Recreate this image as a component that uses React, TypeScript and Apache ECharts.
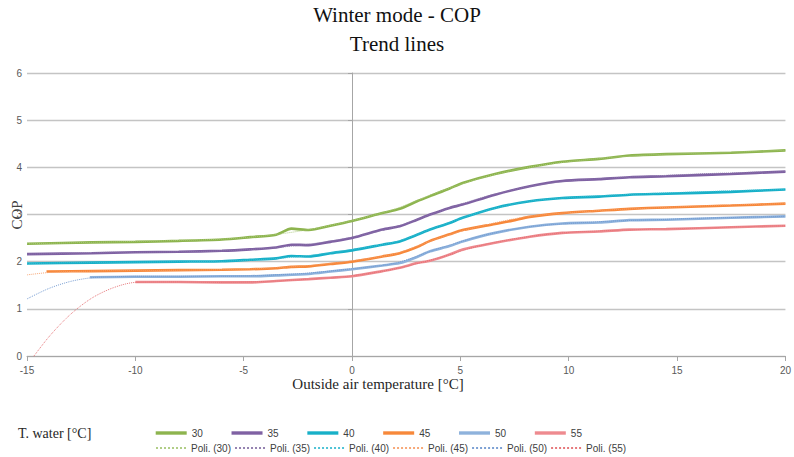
import React, { useEffect, useRef } from "react";
import * as echarts from "echarts";

// Measured series (outside air temperature [°C] -> COP)
const T_30 = [-15, -12, -10, -8, -6, -4.7, -3.5, -2.8, -2, -1, 0, 1.4, 2.2, 3, 3.6, 4.5, 5.1, 6.6, 8.2, 9.7, 11.4, 12.8, 14.5, 17.5, 20];
const COP_30 = [2.38, 2.41, 2.42, 2.44, 2.47, 2.52, 2.57, 2.7, 2.67, 2.76, 2.86, 3.03, 3.12, 3.28, 3.39, 3.55, 3.67, 3.86, 4.01, 4.12, 4.18, 4.25, 4.28, 4.31, 4.36];
const T_35 = T_30;
const COP_35 = [2.16, 2.18, 2.2, 2.21, 2.23, 2.26, 2.3, 2.36, 2.35, 2.42, 2.5, 2.68, 2.75, 2.89, 3.0, 3.14, 3.21, 3.42, 3.6, 3.71, 3.75, 3.79, 3.81, 3.86, 3.91];
const T_40 = T_30;
const COP_40 = [1.96, 1.98, 1.99, 2.0, 2.01, 2.04, 2.07, 2.12, 2.11, 2.18, 2.24, 2.36, 2.43, 2.57, 2.68, 2.82, 2.93, 3.14, 3.28, 3.35, 3.38, 3.42, 3.44, 3.48, 3.53];
const T_45 = [-14.1, -12, -10, -8, -6, -4.7, -3.5, -2.8, -2, -1, 0, 1.4, 2.2, 3, 3.6, 4.5, 5.1, 6.6, 7.4, 8.2, 9.7, 11.4, 12.8, 14.5, 17.5, 20];
const COP_45 = [1.79, 1.8, 1.81, 1.82, 1.83, 1.84, 1.86, 1.89, 1.9, 1.95, 2.0, 2.11, 2.18, 2.31, 2.44, 2.58, 2.67, 2.8, 2.87, 2.95, 3.03, 3.08, 3.12, 3.15, 3.19, 3.23];
const T_50 = [-12.1, -10, -8, -6, -4.7, -3.5, -2, -1, 0, 1.4, 2.2, 3, 3.6, 4.5, 5.1, 6.6, 8.2, 9.7, 11.4, 12.8, 14.5, 17.5, 20];
const COP_50 = [1.67, 1.68, 1.68, 1.69, 1.69, 1.71, 1.74, 1.79, 1.84, 1.92, 1.97, 2.1, 2.22, 2.33, 2.43, 2.61, 2.74, 2.81, 2.83, 2.88, 2.89, 2.93, 2.96];
const T_55 = [-10, -8, -6, -4.7, -3.5, -2, -1, 0, 1.4, 2.2, 3, 3.6, 4.5, 5.1, 6.6, 8.2, 9.7, 11.4, 12.8, 14.5, 17.5, 20];
const COP_55 = [1.57, 1.57, 1.56, 1.56, 1.59, 1.63, 1.66, 1.69, 1.8, 1.87, 1.97, 2.02, 2.15, 2.26, 2.4, 2.53, 2.61, 2.64, 2.68, 2.69, 2.73, 2.76];

// Polynomial trend lines
const POLY_TEMPS = [-15, -14, -13, -12, -11, -10, -8, -6, -4, -2, 0, 2, 4, 6, 8, 10, 12, 14, 16, 18, 20];
const POLY_30 = [2.38, 2.39, 2.4, 2.41, 2.42, 2.43, 2.45, 2.48, 2.55, 2.68, 2.87, 3.12, 3.48, 3.78, 3.99, 4.12, 4.21, 4.27, 4.3, 4.33, 4.36];
const POLY_35 = [2.16, 2.17, 2.18, 2.19, 2.2, 2.2, 2.21, 2.23, 2.28, 2.37, 2.52, 2.74, 3.06, 3.36, 3.58, 3.71, 3.78, 3.82, 3.86, 3.89, 3.91];
const POLY_40 = [1.96, 1.97, 1.98, 1.98, 1.99, 1.99, 2.0, 2.01, 2.05, 2.13, 2.26, 2.42, 2.75, 3.06, 3.27, 3.36, 3.41, 3.45, 3.48, 3.51, 3.53];
const POLY_45 = [1.72, 1.77, 1.79, 1.8, 1.81, 1.81, 1.82, 1.83, 1.86, 1.92, 2.02, 2.17, 2.5, 2.76, 2.95, 3.04, 3.1, 3.14, 3.18, 3.21, 3.23];
const POLY_50 = [1.21, 1.43, 1.58, 1.66, 1.68, 1.69, 1.69, 1.69, 1.71, 1.76, 1.85, 1.97, 2.28, 2.55, 2.73, 2.81, 2.86, 2.89, 2.92, 2.94, 2.96];
const POLY_55 = [-0.2, 0.4, 0.88, 1.23, 1.45, 1.56, 1.57, 1.56, 1.58, 1.63, 1.7, 1.85, 2.08, 2.35, 2.52, 2.62, 2.66, 2.69, 2.71, 2.74, 2.76];

const WATER_TEMPS = ["30", "35", "40", "45", "50", "55"];
const COLORS = ["#8db44e", "#7f61a3", "#17b0c8", "#f7883a", "#8eb2dc", "#ee8a8f"];
const POLY_COLORS = ["#a9c97a", "#8a76a8", "#3cbcd2", "#f6a06a", "#6f97cf", "#e36a6e"];
const MEASURED = [
  [T_30, COP_30],
  [T_35, COP_35],
  [T_40, COP_40],
  [T_45, COP_45],
  [T_50, COP_50],
  [T_55, COP_55],
];
const POLYS = [POLY_30, POLY_35, POLY_40, POLY_45, POLY_50, POLY_55];

const X_TICKS = { min: -15, max: 20, interval: 5 };
const Y_TICKS = { min: 0, max: 6, interval: 1 };

const SANS = "'Liberation Sans', Arial, sans-serif";
const SERIF = "'Liberation Serif', 'Times New Roman', serif";

export default function App() {
  const ref = useRef<HTMLDivElement>(null);
  useEffect(() => {
    if (!ref.current) return;
    const chart = echarts.init(ref.current, undefined, { renderer: "svg" });
    const zip = (xs: number[], ys: number[]) => xs.map((x, i) => [x, ys[i]]);
    const solid = WATER_TEMPS.map((name, i) => ({
      name,
      type: "line",
      data: zip(MEASURED[i][0] as number[], MEASURED[i][1] as number[]),
      symbol: "none",
      smooth: 0.25,
      lineStyle: { color: COLORS[i], width: 2.6 },
      itemStyle: { color: COLORS[i] },
      z: 3,
    }));
    const poly = WATER_TEMPS.map((t, i) => ({
      name: `Poli. (${t})`,
      type: "line",
      data: zip(POLY_TEMPS, POLYS[i]),
      symbol: "none",
      smooth: 0.3,
      lineStyle: { color: POLY_COLORS[i], width: 1, type: "dotted", opacity: 0.9 },
      itemStyle: { color: POLY_COLORS[i] },
      z: 4,
    }));
    chart.setOption({
      animation: false,
      title: {
        text: "Winter mode - COP\nTrend lines",
        left: "center",
        top: 0,
        padding: [0, 5],
        textStyle: { fontFamily: SERIF, fontSize: 21, fontWeight: "normal", color: "#111", lineHeight: 29 },
      },
      grid: { left: 27, right: 6, top: 73, bottom: 101, containLabel: false },
      xAxis: {
        type: "value",
        ...X_TICKS,
        axisLine: { show: true, lineStyle: { color: "#a6a6a6", width: 1 } },
        axisTick: { show: true, length: 5, lineStyle: { color: "#a6a6a6" } },
        axisLabel: { color: "#595959", fontFamily: SANS, fontSize: 10, margin: 9 },
        splitLine: { show: false },
      },
      yAxis: {
        type: "value",
        ...Y_TICKS,
        axisLine: { show: true, onZero: true, lineStyle: { color: "#a6a6a6", width: 1 } },
        axisTick: { show: true, length: 4, lineStyle: { color: "#a6a6a6" } },
        axisLabel: { color: "#595959", fontFamily: SANS, fontSize: 10, margin: 5 },
        splitLine: { show: true, lineStyle: { color: "#c4c4c4", width: 1.3 } },
      },
      legend: [
        {
          data: WATER_TEMPS,
          left: 154,
          top: 428,
          padding: 0,
          itemWidth: 31,
          itemHeight: 10,
          itemGap: 27,
          itemStyle: { opacity: 0, borderWidth: 0 },
          lineStyle: { width: 3.4 },
          textStyle: { fontFamily: SANS, fontSize: 10, color: "#404040", width: 20 },
        },
        {
          data: WATER_TEMPS.map((t) => `Poli. (${t})`),
          left: 155,
          top: 443,
          padding: 0,
          itemWidth: 30,
          itemHeight: 10,
          itemGap: 3,
          itemStyle: { opacity: 0, borderWidth: 0 },
          textStyle: { fontFamily: SANS, fontSize: 10, color: "#404040", width: 45 },
        },
      ],
      graphic: [
        {
          type: "text",
          x: 17,
          y: 215,
          rotation: Math.PI / 2,
          style: { text: "COP", font: `15px ${SERIF}`, fill: "#404040", textAlign: "center", textVerticalAlign: "middle" },
        },
        {
          type: "text",
          x: 378,
          y: 384,
          style: { text: "Outside air temperature [°C]", font: `15px ${SERIF}`, fill: "#262626", textAlign: "center", textVerticalAlign: "middle" },
        },
        {
          type: "text",
          x: 18,
          y: 433,
          style: { text: "T. water [°C]", font: `14px ${SERIF}`, fill: "#262626", textAlign: "left", textVerticalAlign: "middle" },
        },
      ],
      series: [...solid, ...poly],
    });
    return () => chart.dispose();
  }, []);
  return <div ref={ref} style={{ width: 794, height: 457, position: "absolute", left: 0, top: 0 }} />;
}
